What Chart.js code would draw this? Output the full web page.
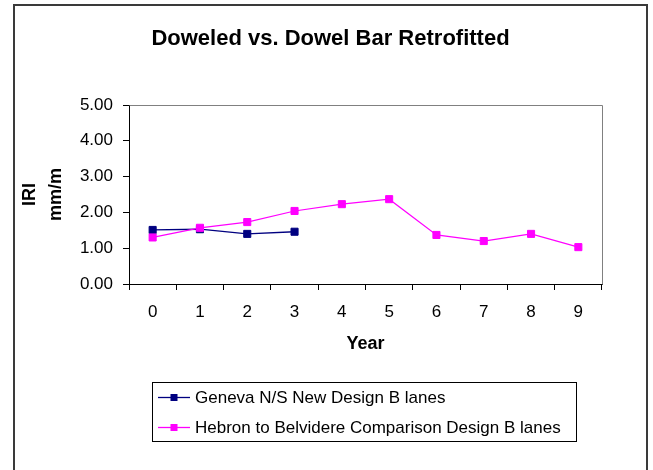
<!DOCTYPE html>
<html>
<head>
<meta charset="utf-8">
<script src="https://cdn.jsdelivr.net/npm/chart.js@4.4.1/dist/chart.umd.min.js"></script>
<style>
  html, body { margin: 0; padding: 0; background: #ffffff; }
  #wrap { position: relative; width: 653px; height: 470px; }
</style>
</head>
<body>
<div id="wrap"><canvas id="c" width="653" height="470"></canvas></div>
<script>
const years = ['0', '1', '2', '3', '4', '5', '6', '7', '8', '9'];
const genevaIRI = [1.51, 1.53, 1.40, 1.46, null, null, null, null, null, null];
const hebronIRI = [1.30, 1.57, 1.73, 2.04, 2.23, 2.37, 1.37, 1.20, 1.40, 1.03];
const yTickValues = [0, 1, 2, 3, 4, 5];
const seriesNames = ['Geneva N/S New Design B lanes', 'Hebron to Belvidere Comparison Design B lanes'];
const chartTitle = 'Doweled vs. Dowel Bar Retrofitted';
const yTitle = ['IRI', 'mm/m'];
const xTitle = 'Year';

const FONT = "'Liberation Sans', Arial, Helvetica, sans-serif";

const framePlugin = {
  id: 'frame',
  beforeDraw(chart) {
    const ctx = chart.ctx;
    ctx.save();
    ctx.fillStyle = '#ffffff';
    ctx.fillRect(0, 0, chart.width, chart.height);
    ctx.restore();
  },
  afterDraw(chart) {
    const ctx = chart.ctx;
    const a = chart.chartArea;
    ctx.save();
    // plot area border (top and right), gray
    ctx.strokeStyle = '#808080';
    ctx.lineWidth = 1;
    ctx.beginPath();
    ctx.moveTo(Math.round(a.left) + 0.5, Math.round(a.top) + 0.5);
    ctx.lineTo(Math.round(a.right) + 0.5, Math.round(a.top) + 0.5);
    ctx.lineTo(Math.round(a.right) + 0.5, Math.round(a.bottom) + 0.5);
    ctx.stroke();
    // outer chart border
    ctx.strokeStyle = '#3a3a3a';
    ctx.lineWidth = 2;
    ctx.beginPath();
    ctx.moveTo(14, 480);
    ctx.lineTo(14, 5);
    ctx.lineTo(647, 5);
    ctx.lineTo(647, 480);
    ctx.stroke();

    // legend
    const box = {x: 152.5, y: 382.5, w: 424, h: 59};
    ctx.strokeStyle = '#000000';
    ctx.lineWidth = 1;
    ctx.strokeRect(box.x, box.y, box.w, box.h);
    const rows = [397, 427];
    chart.data.datasets.forEach((ds) => {
      const y = rows[ds.legendIndex];
      ctx.strokeStyle = ds.borderColor;
      ctx.lineWidth = 1.3;
      ctx.beginPath();
      ctx.moveTo(158, y + 0.5);
      ctx.lineTo(190, y + 0.5);
      ctx.stroke();
      ctx.fillStyle = ds.borderColor;
      ctx.fillRect(170.5, y - 3, 7, 7);
      ctx.fillStyle = '#000000';
      ctx.font = '17px ' + FONT;
      ctx.textAlign = 'left';
      ctx.textBaseline = 'middle';
      ctx.fillText(ds.label, 195, y + 1);
    });
    ctx.restore();
  }
};

new Chart(document.getElementById('c'), {
  type: 'line',
  data: {
    labels: years,
    datasets: [
      {
        label: seriesNames[1],
        legendIndex: 1,
        data: hebronIRI,
        borderColor: '#FF00FF',
        backgroundColor: '#FF00FF',
        borderWidth: 1.2,
        pointStyle: 'rect',
        pointRadius: 5,
        pointBorderWidth: 1,
        pointBackgroundColor: '#FF00FF',
        pointBorderColor: '#FF00FF',
        tension: 0,
        fill: false,
        order: 0
      },
      {
        label: seriesNames[0],
        legendIndex: 0,
        data: genevaIRI,
        borderColor: '#000080',
        backgroundColor: '#000080',
        borderWidth: 1.3,
        pointStyle: 'rect',
        pointRadius: 5,
        pointBorderWidth: 1,
        pointBackgroundColor: '#000080',
        pointBorderColor: '#000080',
        tension: 0,
        fill: false,
        spanGaps: false,
        order: 1
      }
    ]
  },
  options: {
    responsive: false,
    animation: false,
    devicePixelRatio: 1,
    layout: { padding: { top: 0, right: 0, bottom: 0, left: 8 } },
    plugins: {
      legend: { display: false },
      tooltip: { enabled: false },
      title: {
        display: true,
        text: chartTitle,
        color: '#000000',
        font: { family: FONT, size: 22, weight: 'bold', lineHeight: 1.2 },
        padding: { top: 26, bottom: 52.6 }
      }
    },
    scales: {
      x: {
        type: 'category',
        offset: true,
        afterFit(s) { s.height = 186; },
        grid: {
          offset: true,
          drawOnChartArea: false,
          drawTicks: true,
          tickLength: 6,
          tickColor: '#000000',
          tickWidth: 1
        },
        border: { display: true, color: '#000000', width: 1 },
        ticks: {
          color: '#000000',
          font: { family: FONT, size: 17 },
          padding: 12,
          maxRotation: 0,
          autoSkip: false
        },
        title: {
          display: true,
          text: xTitle,
          color: '#000000',
          font: { family: FONT, size: 18, weight: 'bold', lineHeight: 1.2 },
          padding: { top: 0, bottom: 115 }
        }
      },
      y: {
        min: 0,
        max: 5,
        afterFit(s) { s.width = 121; },
        afterBuildTicks(s) { s.ticks = yTickValues.map(v => ({ value: v })); },
        grid: {
          drawOnChartArea: false,
          drawTicks: true,
          tickLength: 6,
          tickColor: '#000000',
          tickWidth: 1
        },
        border: { display: true, color: '#000000', width: 1 },
        ticks: {
          color: '#000000',
          font: { family: FONT, size: 17 },
          padding: 10,
          callback: v => Number(v).toFixed(2)
        },
        title: {
          display: true,
          text: yTitle,
          color: '#000000',
          font: { family: FONT, size: 18, weight: 'bold', lineHeight: 1.45 },
          padding: { top: 9, bottom: 0 }
        }
      },
      yRight: {
        position: 'right',
        min: 0,
        max: 5,
        afterFit(s) { s.width = 51; },
        grid: { display: false, drawOnChartArea: false },
        border: { display: false },
        ticks: { display: false },
        title: { display: false }
      }
    }
  },
  plugins: [framePlugin]
});
</script>
</body>
</html>
